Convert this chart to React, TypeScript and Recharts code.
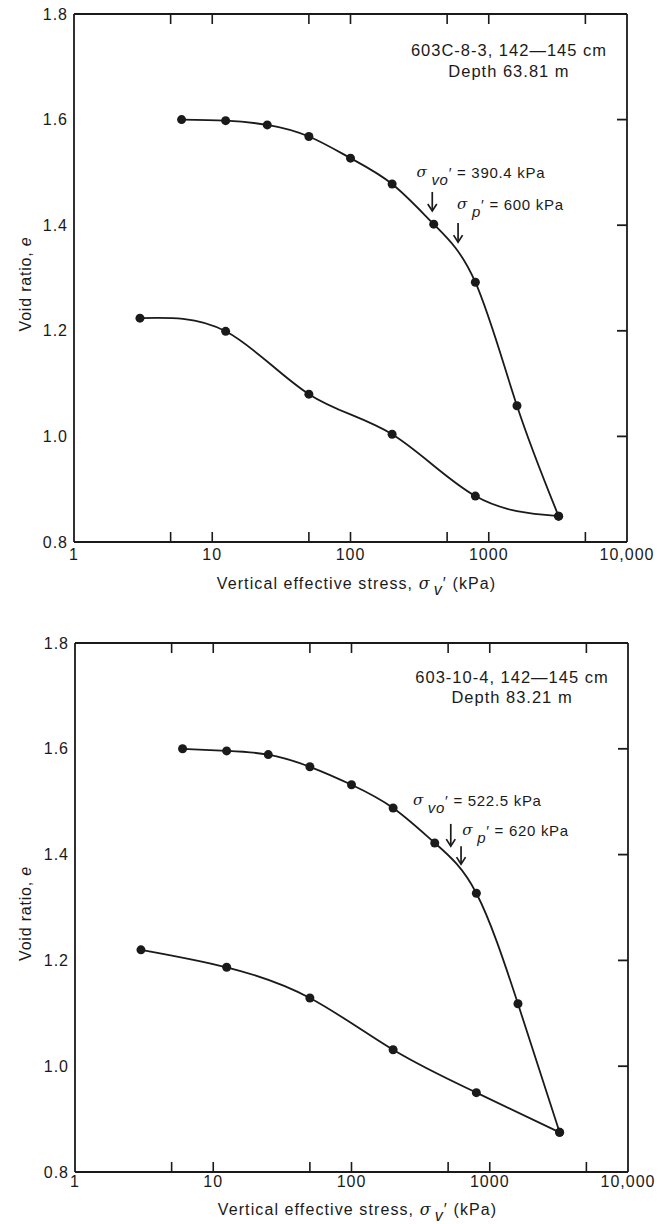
import React from "react";
import { LineChart, Line, XAxis, YAxis, ReferenceLine, ReferenceDot } from "recharts";

// stress steps (kPa)
const loadStress = [6, 12.5, 25, 50, 100, 200, 400, 800, 1600, 3200];
const unloadStress = [3, 12.5, 50, 200, 800, 3200];

// void ratio, sample 603C-8-3
const loadA = [1.6, 1.598, 1.59, 1.568, 1.527, 1.478, 1.402, 1.292, 1.058, 0.849];
const unloadA = [1.224, 1.199, 1.08, 1.004, 0.887, 0.849];

// void ratio, sample 603-10-4
const loadB = [1.6, 1.596, 1.589, 1.566, 1.532, 1.488, 1.422, 1.327, 1.118, 0.875];
const unloadB = [1.22, 1.187, 1.129, 1.031, 0.95, 0.875];

const sampleNames = ["603C-8-3, 142\u2014145 cm", "603-10-4, 142\u2014145 cm"];
const depthNames = ["Depth 63.81 m", "Depth 83.21 m"];
const sigmaVo = [390.4, 522.5];
const sigmaP = [600, 620];

const xMajorTicks = [1, 10, 100, 1000, 10000];
const xMinorTicks = [5, 10, 50, 100, 500, 1000, 5000];
const yTicks = [0.8, 1.0, 1.2, 1.4, 1.6, 1.8];
const yInnerTicks = [1.0, 1.2, 1.4, 1.6];

const X_MIN = 1;
const X_MAX = 10000;
const Y_MIN = 0.8;
const Y_MAX = 1.8;

const INK = "#1a1a1a";
const FONT = "'Liberation Sans', Arial, sans-serif";
const hiddenTick = { fill: "none", fontSize: 1 };

const toRows = (xs: number[], ys: number[]) => xs.map((s, i) => ({ s, e: ys[i] }));
const fmtX = (v: number) => (v === 10000 ? "10,000" : String(v));

// top frame line, with the inward stress ticks on the top and bottom frame
const makeFrame = (plotH: number) => (p: any) => {
  const { x1, x2, y1 } = p;
  const span = Math.log10(X_MAX) - Math.log10(X_MIN);
  const px = (t: number) => x1 + ((Math.log10(t) - Math.log10(X_MIN)) / span) * (x2 - x1);
  return (
    <g stroke={INK} fill="none">
      <line x1={x1} x2={x2} y1={y1} y2={y1} strokeWidth={1.8} />
      {xMinorTicks.map((t) => (
        <g key={t} strokeWidth={1.6}>
          <line x1={px(t)} x2={px(t)} y1={y1} y2={y1 + 10} />
          <line x1={px(t)} x2={px(t)} y1={y1 + plotH} y2={y1 + plotH - 10} />
        </g>
      ))}
    </g>
  );
};

const Arrow = (p: any) => {
  const { x1, y1, x2, y2 } = p;
  return (
    <g stroke={INK} strokeWidth={1.7} fill="none">
      <line x1={x1} y1={y1} x2={x2} y2={y2} />
      <polyline points={`${x2 - 4.5},${y2 - 7} ${x2},${y2} ${x2 + 4.5},${y2 - 7}`} />
    </g>
  );
};

const sigmaLabel = (sub: string, value: string) => (p: any) => (
  <text x={p.cx} y={p.cy} fontSize={15} fill={INK} fontFamily={FONT} letterSpacing={0.7} dominantBaseline="central">
    <tspan fontStyle="italic" fontFamily="'DejaVu Serif', serif" fontSize={15}>
      σ
    </tspan>
    <tspan dx={4} dy={7} fontStyle="italic">
      {sub}
    </tspan>
    <tspan dy={-7}>{`\u2032 = ${value} kPa`}</tspan>
  </text>
);

const centerText = (txt: string) => (p: any) => (
  <text x={p.cx} y={p.cy} fontSize={16.5} fill={INK} fontFamily={FONT} letterSpacing={1} textAnchor="middle" dominantBaseline="central">
    {txt}
  </text>
);

const xTitle = (dy: number) => (p: any) => {
  const vb = p.viewBox;
  const cx = vb.x + vb.width / 2 + 6;
  return (
    <text x={cx} y={vb.y + dy} fontSize={16} fill={INK} fontFamily={FONT} letterSpacing={1.1} textAnchor="middle" dominantBaseline="central">
      Vertical effective stress,{" "}
      <tspan fontStyle="italic" fontFamily="'DejaVu Serif', serif">σ</tspan>
      <tspan dx={3} dy={6} fontStyle="italic">v</tspan>
      <tspan dy={-6}>{"\u2032 (kPa)"}</tspan>
    </text>
  );
};

const yTitle = (p: any) => {
  const vb = p.viewBox;
  const cy = vb.y + vb.height / 2 + 6;
  return (
    <text x={25} y={cy} transform={`rotate(-90, 25, ${cy})`} fontSize={16} fill={INK} fontFamily={FONT} letterSpacing={0.8} textAnchor="middle" dominantBaseline="central">
      Void ratio, <tspan fontStyle="italic">e</tspan>
    </text>
  );
};

type PanelProps = {
  idx: number;
  load: number[];
  unload: number[];
  height: number;
  top: number;
  axisH: number;
  tickGap: number;
  titleDy: number;
  left: number;
  right: number;
  head: [number, number, number];
  voLabel: [number, number];
  voArrow: [number, number];
  pLabel: [number, number];
  pArrow: [number, number];
};

function Panel(pp: PanelProps) {
  const tickStyle = { fill: INK, fontSize: 16, fontFamily: FONT, letterSpacing: 1 };
  const plotH = pp.height - pp.top - pp.axisH;
  const loadRows = toRows(loadStress, pp.load);
  const unloadRows = toRows(unloadStress, pp.unload);
  return (
    <LineChart
      width={670}
      height={pp.height}
      margin={{ top: pp.top, right: pp.right, bottom: 0, left: 0 }}
    >
      <XAxis
        xAxisId="x"
        dataKey="s"
        type="number"
        scale="log"
        domain={[X_MIN, X_MAX]}
        allowDataOverflow
        ticks={xMajorTicks}
        interval={0}
        tickFormatter={fmtX}
        tickLine={false}
        tickSize={0}
        tickMargin={pp.tickGap}
        height={pp.axisH}
        stroke={INK}
        strokeWidth={1.8}
        tick={tickStyle}
        label={xTitle(pp.titleDy)}
      />
      <YAxis
        yAxisId="l"
        type="number"
        domain={[Y_MIN, Y_MAX]}
        allowDataOverflow
        ticks={yTicks}
        tickFormatter={(v: number) => v.toFixed(1)}
        tickLine={false}
        tickSize={0}
        tickMargin={6}
        width={pp.left}
        stroke={INK}
        strokeWidth={1.8}
        tick={tickStyle}
        label={yTitle}
      />
      <YAxis
        yAxisId="r"
        orientation="right"
        type="number"
        domain={[Y_MIN, Y_MAX]}
        allowDataOverflow
        ticks={yInnerTicks}
        mirror
        tick={hiddenTick}
        tickSize={10}
        stroke={INK}
        strokeWidth={1.8}
      />
      <ReferenceLine xAxisId="x" yAxisId="l" y={Y_MAX} ifOverflow="visible" shape={makeFrame(plotH)} />
      <Line
        xAxisId="x"
        yAxisId="l"
        data={loadRows}
        dataKey="e"
        type="natural"
        stroke={INK}
        strokeWidth={1.8}
        dot={{ r: 4.5, fill: INK, stroke: INK, strokeWidth: 0 }}
        isAnimationActive={false}
      />
      <Line
        xAxisId="x"
        yAxisId="l"
        data={unloadRows}
        dataKey="e"
        type="natural"
        stroke={INK}
        strokeWidth={1.8}
        dot={{ r: 4.5, fill: INK, stroke: INK, strokeWidth: 0 }}
        isAnimationActive={false}
      />
      <ReferenceDot xAxisId="x" yAxisId="l" x={pp.head[0]} y={pp.head[1]} r={0} shape={centerText(sampleNames[pp.idx])} />
      <ReferenceDot xAxisId="x" yAxisId="l" x={pp.head[0]} y={pp.head[2]} r={0} shape={centerText(depthNames[pp.idx])} />
      <ReferenceDot
        xAxisId="x"
        yAxisId="l"
        x={pp.voLabel[0]}
        y={pp.voLabel[1]}
        r={0}
        shape={sigmaLabel("vo", String(sigmaVo[pp.idx]))}
      />
      <ReferenceDot
        xAxisId="x"
        yAxisId="l"
        x={pp.pLabel[0]}
        y={pp.pLabel[1]}
        r={0}
        shape={sigmaLabel("p", String(sigmaP[pp.idx]))}
      />
      <ReferenceLine
        xAxisId="x"
        yAxisId="l"
        segment={[
          { x: sigmaVo[pp.idx], y: pp.voArrow[0] },
          { x: sigmaVo[pp.idx], y: pp.voArrow[1] },
        ]}
        shape={Arrow}
      />
      <ReferenceLine
        xAxisId="x"
        yAxisId="l"
        segment={[
          { x: sigmaP[pp.idx], y: pp.pArrow[0] },
          { x: sigmaP[pp.idx], y: pp.pArrow[1] },
        ]}
        shape={Arrow}
      />
    </LineChart>
  );
}

export default function App() {
  return (
    <div
      style={{
        position: "absolute",
        left: 0,
        top: 0,
        width: 670,
        height: 1224,
        background: "#fff",
        fontFamily: FONT,
      }}
    >
      <Panel
        idx={0}
        load={loadA}
        unload={unloadA}
        height={610}
        top={14}
        axisH={68}
        tickGap={7}
        titleDy={41}
        left={74}
        right={43}
        head={[1400, 1.732, 1.692]}
        voLabel={[300, 1.501]}
        voArrow={[1.463, 1.427]}
        pLabel={[590, 1.44]}
        pArrow={[1.404, 1.368]}
      />
      <Panel
        idx={1}
        load={loadB}
        unload={unloadB}
        height={614}
        top={33}
        axisH={52}
        tickGap={4}
        titleDy={37}
        left={75}
        right={42}
        head={[1449, 1.736, 1.698]}
        voLabel={[278, 1.503]}
        voArrow={[1.458, 1.416]}
        pLabel={[632, 1.447]}
        pArrow={[1.416, 1.382]}
      />
    </div>
  );
}
